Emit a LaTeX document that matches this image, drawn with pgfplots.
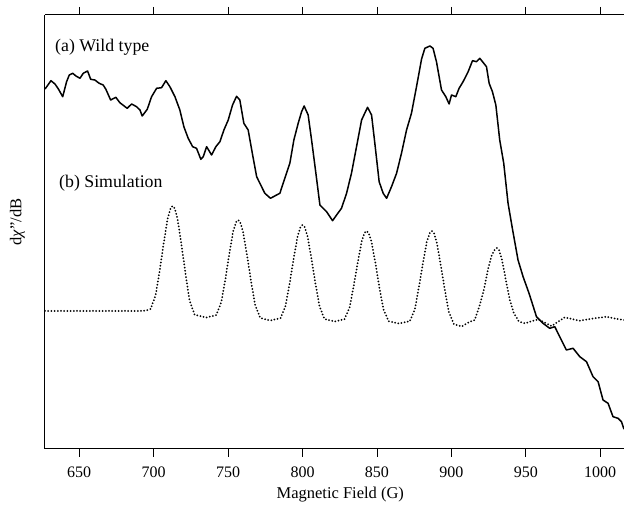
\documentclass[border=0pt]{standalone}
\usepackage{fontspec}
\setmainfont{Liberation Serif}
\usepackage{pgfplots}
\pgfplotsset{compat=1.18}
\usepackage{pgfplotstable}

% wild type spectrum (field in G, signal in arbitrary units)
\pgfplotstableread{
x y
627.0 360.0
627.4 360.7
631.0 368.3
633.7 365.0
636.0 360.0
638.9 352.3
641.5 367.3
643.3 374.0
645.6 375.7
647.8 373.0
650.5 370.7
652.7 375.7
655.6 378.0
657.7 369.7
660.5 369.0
663.4 365.7
666.1 364.0
667.9 359.7
671.1 349.0
674.6 351.7
677.3 346.3
682.2 340.7
685.2 345.0
688.5 342.3
690.8 339.0
692.3 333.0
695.7 339.7
698.6 352.3
702.0 360.7
705.3 361.3
708.2 368.3
710.9 362.3
714.3 352.3
717.6 339.0
720.3 322.3
723.2 310.7
726.2 302.3
728.8 300.7
731.7 289.7
733.3 292.3
735.6 302.3
738.9 294.0
741.8 302.3
744.5 307.3
747.2 319.0
750.1 329.0
753.0 344.0
755.7 352.7
757.9 349.0
760.6 325.7
763.5 319.0
766.5 294.0
769.2 272.3
772.5 262.3
774.7 255.7
778.5 250.7
782.6 254.0
784.8 255.7
788.1 270.7
791.5 285.7
794.2 309.0
797.1 325.7
799.4 337.3
801.1 343.0
803.8 334.0
806.1 309.0
809.0 275.7
811.7 244.0
816.2 237.3
820.2 228.3
822.9 234.0
826.2 240.7
829.6 255.7
832.9 275.7
836.3 302.3
839.7 329.0
843.7 341.7
846.4 334.0
848.6 305.7
851.5 267.3
854.2 255.7
856.5 250.7
859.8 262.3
863.2 275.7
866.5 295.7
869.9 319.0
873.2 335.7
876.6 362.3
880.0 390.0
882.2 400.7
885.6 403.0
887.7 400.7
890.0 387.3
891.8 372.3
893.4 359.0
896.3 352.3
898.5 345.0
900.1 354.0
903.0 352.3
905.2 360.7
907.9 367.3
911.3 377.3
914.2 388.3
916.9 387.3
919.1 390.7
921.8 385.7
923.6 382.3
925.4 365.7
927.6 357.3
929.9 344.0
932.5 309.0
935.2 285.7
938.1 245.7
941.1 219.7
944.8 189.0
948.2 172.3
952.2 155.7
957.2 132.3
961.6 125.7
966.1 120.7
969.5 122.3
972.8 112.3
977.3 99.0
981.8 100.7
986.3 92.3
990.8 87.3
995.2 72.3
998.6 67.3
1001.9 49.0
1005.3 45.7
1008.6 32.3
1012.0 30.7
1014.3 27.3
1015.8 20.7
1018.0 17.0
}\wildtype

% simulated spectrum
\pgfplotstableread{
x y
627.0 138.0
663.9 138.0
692.8 138.0
696.1 139.0
698.0 140.1
701.3 153.7
704.0 177.9
706.7 205.2
709.4 230.4
711.4 240.9
712.7 243.0
714.1 240.8
716.1 229.7
718.8 203.0
721.5 174.2
724.1 148.7
727.5 134.2
735.6 131.5
742.0 133.9
745.4 146.6
748.1 168.9
750.7 194.1
753.4 217.4
755.4 227.1
756.8 229.0
758.1 227.0
760.1 217.0
762.8 193.0
765.5 167.0
768.2 144.0
771.6 131.0
778.4 128.5
785.3 130.9
788.6 143.2
791.3 165.1
794.0 189.8
796.7 212.6
798.7 222.1
800.0 224.0
801.4 222.1
803.4 212.5
806.1 189.4
808.8 164.5
811.5 142.4
814.8 129.9
821.7 127.5
828.2 129.8
831.6 141.5
834.3 162.2
837.0 185.6
839.7 207.2
841.7 216.2
843.0 218.0
844.4 216.2
846.4 207.0
849.1 184.9
851.7 161.0
854.4 139.8
857.8 127.8
864.7 125.5
872.1 127.8
875.5 139.8
878.1 161.0
880.8 184.9
883.5 207.0
885.6 216.2
886.9 218.0
888.3 216.1
890.2 206.6
892.9 183.8
895.6 159.1
898.3 137.2
901.7 124.9
907.0 122.5
912.4 127.3
915.7 129.0
919.1 144.0
921.8 159.0
924.5 179.0
927.2 194.0
929.2 199.4
930.6 201.0
931.9 199.5
933.9 190.0
936.6 169.0
939.3 149.0
942.0 136.0
945.4 127.5
949.4 125.7
958.3 129.7
967.3 123.0
971.5 127.0
976.2 131.7
980.9 130.0
986.3 128.3
995.0 130.5
1004.2 132.3
1009.8 130.5
1015.8 129.0
1019.8 129.0
}\simulation

\begin{document}
\begin{tikzpicture}
\begin{axis}[
  scale only axis,
  width=579pt, height=434pt,
  xmin=627, xmax=1016, ymin=0, ymax=434,
  axis x line*=box, axis y line*=left,
  axis line style={line width=1pt},
  xtick={650,700,...,1000}, ytick=\empty,
  tick align=outside, major tick length=8pt,
  tick style={line width=0.8pt, black},
  /pgf/number format/assume math mode=true,
  /pgf/number format/1000 sep={},
  xticklabel style={font=\fontsize{16}{18}\selectfont, anchor=center, yshift=-15pt},
  xlabel={Magnetic Field (G)},
  xlabel style={font=\fontsize{16.5}{18}\selectfont, at={(axis description cs:0.51,0)}, anchor=center, yshift=-46pt},
  ylabel={d{\itshape χ}"/dB},
  ylabel style={font=\fontsize{16.5}{18}\selectfont, at={(axis description cs:0,0.523)}, anchor=center, yshift=27.5pt},
  clip=true,
]
\addplot[black, line width=1.5pt, line join=round] table {\wildtype};
\addplot[black, line width=2pt, line cap=round, dash pattern=on 0pt off 3.2pt] table {\simulation};
\node[anchor=base west, inner sep=0pt, font=\fontsize{17.8}{20}\selectfont] at (axis cs:633.7,397) {(a) Wild type};
\node[anchor=base west, inner sep=0pt, font=\fontsize{17.8}{20}\selectfont] at (axis cs:636.4,261) {(b) Simulation};
\end{axis}
\pgfresetboundingbox
\path ([shift={(-45pt,-57pt)}]current axis.south west) rectangle ([shift={(0pt,15pt)}]current axis.north east);
\end{tikzpicture}
\end{document}
